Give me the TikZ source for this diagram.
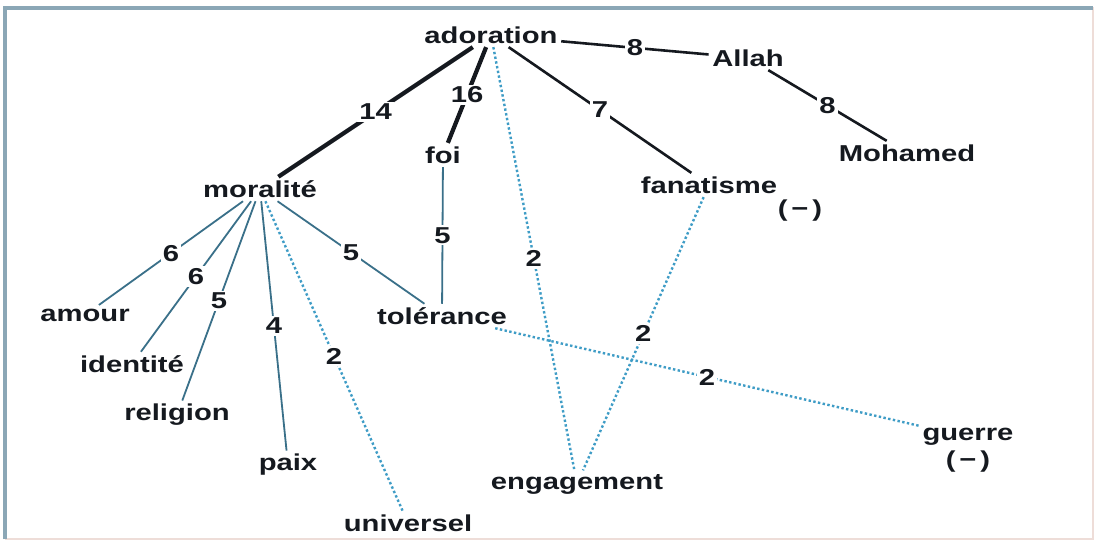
\documentclass[tikz,border=0pt]{standalone}
\usepackage{fontspec}
\newfontfamily\graphfont[FakeStretch=1.27]{Liberation Sans}
\definecolor{ink}{HTML}{15191F}
\definecolor{slate}{HTML}{3A7089}
\definecolor{sky}{HTML}{3E9CC6}
\definecolor{framec}{HTML}{8BA7B6}
\definecolor{blush}{HTML}{EEDDD8}

\begin{document}
\begin{tikzpicture}[x=1pt, y=-1pt,
    word/.style={text=ink, inner sep=3.5pt, font=\graphfont\bfseries\fontsize{23}{25}\selectfont},
    num/.style={word, fill=white, inner sep=2pt},
    fatln/.style={ink, line width=4.2pt},
    midln/.style={ink, line width=2.6pt},
    thinln/.style={slate, line width=1.8pt},
    dotln/.style={sky, line width=2.4pt, dash pattern=on 2.4pt off 2.4pt}]
  \useasboundingbox (0,0) rectangle (1098,545);
  \fill[white] (0,0) rectangle (1098,545);
  \draw[blush, line width=1.5pt] (5,8) -- (1093,8) -- (1093,539) -- (5,539);
  \draw[framec, line width=3.5pt] (5,539) -- (5,8) -- (1093,8);
  \node[word] (ador) at (491,35) {adoration};
  \node[word] (allah) at (748,58) {Allah};
  \node[word] (moham) at (907,153) {Mohamed};
  \node[word] (moral) at (260,189) {moralité};
  \node[word] (foi) at (443,155) {foi};
  \node[word] (fanat) at (709,185) {fanatisme};
  \node[word] (minusF) at (800,211) {(\,−\,)};
  \node[word] (amour) at (85,315) {amour};
  \node[word] (ident) at (132,364) {identité};
  \node[word] (relig) at (177,415) {religion};
  \node[word] (paix) at (288,465) {paix};
  \node[word] (univ) at (408,523) {universel};
  \node[word] (toler) at (442,316) {tolérance};
  \node[word] (engag) at (577,484) {engagement};
  \node[word] (guerre) at (968,437) {guerre};
  \node[word] (minusG) at (968,462) {(\,−\,)};
  \draw[midln] (ador) -- node[num] {8} (allah);
  \draw[midln] (allah) -- node[num] {8} (moham);
  \draw[fatln] (ador) -- node[num] {14} (moral);
  \draw[fatln] (ador) -- node[num] {16} (foi);
  \draw[midln] (ador) -- node[num] {7} (fanat);
  \draw[dotln] (ador) -- node[num] {2} (engag);
  \draw[thinln] (foi) -- node[num] {5} (toler);
  \draw[thinln] (moral) -- node[num] {6} (amour);
  \draw[thinln] (moral) -- node[num] {6} (ident);
  \draw[thinln] (moral) -- node[num] {5} (relig);
  \draw[thinln] (moral) -- node[num] {4} (paix);
  \draw[dotln] (moral) -- node[num] {2} (univ);
  \draw[thinln] (moral) -- node[num] {5} (toler);
  \draw[dotln] (fanat) -- node[num] {2} (engag);
  \draw[dotln] (toler) -- node[num] {2} (guerre);
\end{tikzpicture}
\end{document}
